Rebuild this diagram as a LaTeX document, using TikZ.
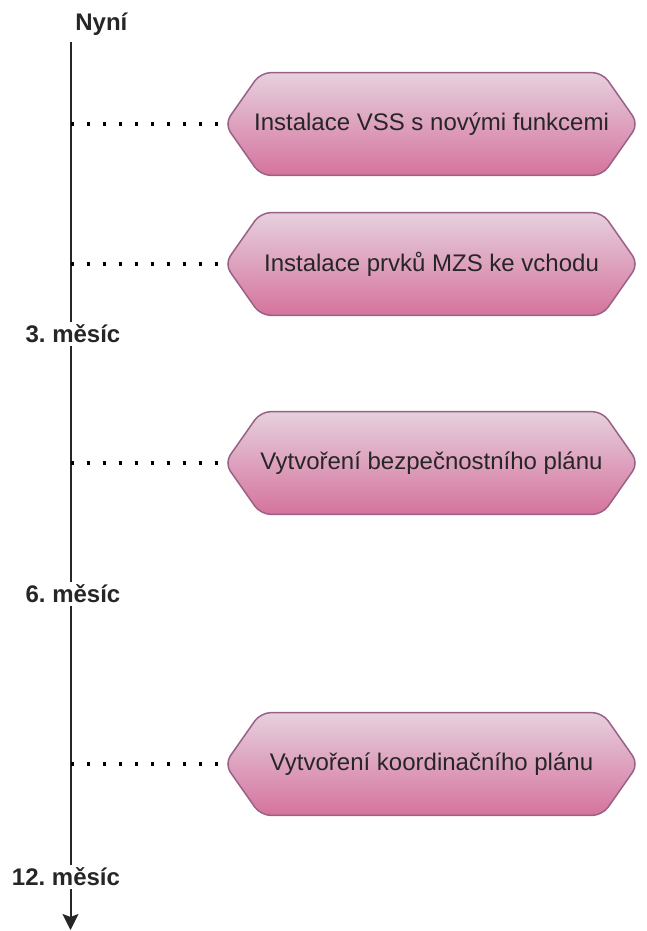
\documentclass[tikz,border=0pt]{standalone}
\usepackage{fontspec}
\setmainfont{Liberation Sans}
\usetikzlibrary{arrows.meta,backgrounds}
\definecolor{evfill}{HTML}{E6D0DE}
\definecolor{evshade}{HTML}{D5739D}
\definecolor{evline}{HTML}{996185}
\definecolor{axisgray}{HTML}{262626}
\frenchspacing
\tikzset{every picture/.style={line width=0.75pt}}
\tikzset{
  event/.style={minimum width=413pt, minimum height=102pt, inner sep=0pt,
    font=\fontsize{24}{28}\selectfont, text=black!85},
  evshape/.style={draw=evline, line width=1.5pt, top color=evfill,
    bottom color=evshade, rounded corners=10pt},
  month/.style={font=\fontsize{24}{28}\selectfont\bfseries, text=black!85, inner sep=3pt},
  dotline/.style={line width=3.2pt, dash pattern=on 3.2pt off 12.8pt},
  axis/.style={line width=2pt, draw=axisgray}
}

\begin{document}
\begin{tikzpicture}[x=1pt, y=-1pt]
    \useasboundingbox (0,0) rectangle (646,931);
    \coordinate (T0) at (70.5, 42);
    \coordinate (T1) at (70.5, 930);
    \node[month, anchor=west](Now) at (72, 24){Nyní};
    \node[month](M3) at (73, 334){3. měsíc};
    \node[month](M6) at (73, 594){6. měsíc};
    \node[month](M12) at (66, 877){12. měsíc};
    \node[event](E1) at (431.5, 124){Instalace VSS s novými funkcemi};
    \node[event](E2) at (431.5, 264){Instalace prvků MZS ke vchodu};
    \node[event](E3) at (431.5, 463){Vytvoření bezpečnostního plánu};
    \node[event](E4) at (431.5, 764){Vytvoření koordinačního plánu};
    \begin{scope}[on background layer]
    \foreach \e in {E1,E2,E3,E4}
        \draw[evshape] (\e.west) -- ([xshift=36pt]\e.north west) -- ([xshift=-36pt]\e.north east)
            -- (\e.east) -- ([xshift=-36pt]\e.south east) -- ([xshift=36pt]\e.south west) -- cycle;
    \end{scope}
    \draw[axis] (T0) -- (T0 |- M3.north);
    \draw[axis] (T0 |- M3.south) -- (T0 |- M6.north);
    \draw[axis] (T0 |- M6.south) -- (T0 |- M12.north);
    \draw[axis, -{Stealth[length=16pt, width=16pt, inset=3pt]}] (T0 |- M12.south) -- (T1);
    \draw[dotline] (T0 |- E1.west) -- (E1.west);
    \draw[dotline] (T0 |- E2.west) -- (E2.west);
    \draw[dotline] (T0 |- E3.west) -- (E3.west);
    \draw[dotline] (T0 |- E4.west) -- (E4.west);
\end{tikzpicture}
\end{document}
